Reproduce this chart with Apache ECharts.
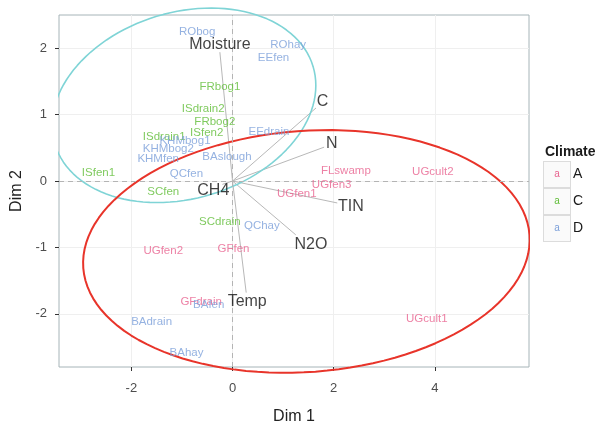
<!DOCTYPE html>
<html>
<head>
<meta charset="utf-8">
<script src="https://cdn.jsdelivr.net/npm/echarts@6/dist/echarts.min.js"></script>
<style>
html, body { margin: 0; padding: 0; background: #fff; }
#chart { width: 595px; height: 424px; }
</style>
</head>
<body>
<div id="chart"></div>
<script>
// site scores (Dim 1, Dim 2) by climate
const namesA = ['FLswamp', 'UGcult2', 'UGfen3', 'UGfen1', 'UGfen2', 'GFfen', 'GFdrain', 'UGcult1'];
const dim1A = [2.24, 3.96, 1.96, 1.27, -1.37, 0.02, -0.62, 3.84];
const dim2A = [0.16, 0.14, -0.05, -0.19, -1.05, -1.02, -1.82, -2.07];

const namesC = ['FRbog1', 'ISdrain2', 'FRbog2', 'ISfen2', 'ISdrain1', 'ISfen1', 'SCfen', 'SCdrain'];
const dim1C = [-0.25, -0.58, -0.35, -0.51, -1.35, -2.65, -1.37, -0.25];
const dim2C = [1.42, 1.08, 0.89, 0.73, 0.66, 0.12, -0.16, -0.61];

const namesD = ['RObog', 'ROhay', 'EEfen', 'EEdrain', 'KHMbog1', 'KHMbog2', 'KHMfen', 'BAslough', 'QCfen', 'QChay', 'BAfen', 'BAdrain', 'BAhay'];
const dim1D = [-0.70, 1.10, 0.81, 0.72, -0.94, -1.27, -1.47, -0.11, -0.91, 0.58, -0.47, -1.60, -0.91];
const dim2D = [2.24, 2.05, 1.86, 0.74, 0.60, 0.49, 0.34, 0.36, 0.11, -0.68, -1.86, -2.12, -2.58];

// environmental variables: label position and arrow end
const varNames = ['Moisture', 'C', 'N', 'CH4', 'TIN', 'N2O', 'Temp'];
const varDim1 = [-0.25, 1.78, 1.96, -0.38, 2.34, 1.55, 0.29];
const varDim2 = [2.06, 1.19, 0.56, -0.15, -0.39, -0.95, -1.81];
const arrowDim1 = [-0.25, 1.65, 1.81, -0.20, 2.07, 1.25, 0.27];
const arrowDim2 = [1.94, 1.10, 0.51, -0.05, -0.33, -0.81, -1.68];

// confidence ellipses: centre and two half-axis vectors
const ellipseCentreA = [1.46, -1.06];
const ellipseAxisA = [[4.41, 0.25], [-0.18, 1.81]];
const ellipseCentreCD = [-0.96, 1.14];
const ellipseAxisCD = [[2.55, 0.59], [-0.54, 1.34]];

const xTicks = [-2, 0, 2, 4];
const yTicks = [-2, -1, 0, 1, 2];

const colA = '#e8628e';
const colC = '#5fbd36';
const colD = '#7b9fd9';

function ellipsePath(c, ax) {
    const pts = [];
    for (let i = 0; i <= 120; i++) {
        const t = (i / 120) * Math.PI * 2;
        pts.push([
            c[0] + ax[0][0] * Math.cos(t) + ax[1][0] * Math.sin(t),
            c[1] + ax[0][1] * Math.cos(t) + ax[1][1] * Math.sin(t)
        ]);
    }
    return pts;
}

function sitePoints(names, xs, ys) {
    return names.map((n, i) => ({ name: n, value: [xs[i], ys[i]] }));
}

function siteSeries(name, color, names, xs, ys) {
    return {
        name: name,
        type: 'scatter',
        symbolSize: 0,
        itemStyle: { color: color },
        data: sitePoints(names, xs, ys),
        label: {
            show: true,
            position: 'inside',
            formatter: p => p.name,
            color: color,
            fontSize: 11.5,
            fontFamily: 'Liberation Sans'
        },
        silent: true,
        z: 5
    };
}

const chart = echarts.init(document.getElementById('chart'));

const box = c => ({
    color: c, fontSize: 10, width: 26, height: 25, align: 'center',
    borderColor: '#dcdcdc', borderWidth: 1, backgroundColor: '#fafafa'
});

const option = {
    animation: false,
    textStyle: { fontFamily: 'Liberation Sans' },
    title: {
        text: 'Climate',
        left: 540,
        top: 140,
        textStyle: { fontSize: 14, fontWeight: 'bold', color: '#1a1a1a', fontFamily: 'Liberation Sans' }
    },
    legend: {
        orient: 'vertical',
        left: 539,
        top: 161,
        data: ['A', 'C', 'D'],
        icon: 'none',
        itemWidth: 0,
        itemGap: 0,
        padding: 0,
        selectedMode: false,
        formatter: name => '{b' + name + '|a}{lab|' + name + '}',
        textStyle: {
            rich: {
                bA: box(colA),
                bC: box(colC),
                bD: box(colD),
                lab: { fontSize: 14, color: '#1a1a1a', padding: [0, 0, 0, 3] }
            }
        }
    },
    grid: {
        left: 59,
        right: 66,
        top: 15,
        bottom: 57,
        outerBoundsMode: 'none',
        show: true,
        borderColor: '#a6b4b8',
        borderWidth: 1,
        backgroundColor: '#fff'
    },
    xAxis: {
        type: 'value',
        min: -3.43,
        max: 5.86,
        name: 'Dim 1',
        nameLocation: 'middle',
        nameGap: 42,
        nameTextStyle: { fontSize: 16, color: '#222' },
        axisLine: { show: false, onZero: false },
        axisTick: { show: true, customValues: xTicks, length: 4, lineStyle: { color: '#333' } },
        axisLabel: { customValues: xTicks, fontSize: 13, color: '#4d4d4d', margin: 15 },
        splitLine: { show: true, lineStyle: { color: '#efefef' } }
    },
    yAxis: {
        type: 'value',
        min: -2.8,
        max: 2.5,
        name: 'Dim 2',
        nameLocation: 'middle',
        nameGap: 34,
        nameTextStyle: { fontSize: 16, color: '#222' },
        axisLine: { show: false, onZero: false },
        axisTick: { show: true, customValues: yTicks, length: 4, lineStyle: { color: '#333' } },
        axisLabel: { customValues: yTicks, fontSize: 13, color: '#4d4d4d', margin: 12 },
        splitLine: { show: true, lineStyle: { color: '#efefef' } }
    },
    series: [
        {
            name: 'zero',
            type: 'line',
            data: [],
            silent: true,
            markLine: {
                symbol: 'none',
                silent: true,
                label: { show: false },
                lineStyle: { color: '#b4b4b4', type: [5, 4], width: 1 },
                data: [{ xAxis: 0 }, { yAxis: 0 }]
            }
        },
        {
            name: 'arrows',
            type: 'lines',
            coordinateSystem: 'cartesian2d',
            silent: true,
            lineStyle: { color: '#b8b8b8', width: 1, opacity: 1 },
            data: varNames.map((n, i) => ({ coords: [[0, 0], [arrowDim1[i], arrowDim2[i]]] })),
            z: 3
        },
        {
            name: 'ellipseCD',
            type: 'line',
            data: ellipsePath(ellipseCentreCD, ellipseAxisCD),
            showSymbol: false,
            clip: false,
            silent: true,
            lineStyle: { color: '#7fd4d6', width: 1.6 },
            z: 4
        },
        {
            name: 'ellipseA',
            type: 'line',
            data: ellipsePath(ellipseCentreA, ellipseAxisA),
            showSymbol: false,
            clip: false,
            silent: true,
            lineStyle: { color: '#e8342a', width: 2 },
            z: 4
        },
        siteSeries('A', colA, namesA, dim1A, dim2A),
        siteSeries('C', colC, namesC, dim1C, dim2C),
        siteSeries('D', colD, namesD, dim1D, dim2D),
        {
            name: 'variables',
            type: 'scatter',
            symbolSize: 0,
            silent: true,
            data: sitePoints(varNames, varDim1, varDim2),
            label: {
                show: true,
                position: 'inside',
                formatter: p => p.name,
                color: '#111',
                fontSize: 16
            },
            z: 6
        }
    ]
};

chart.setOption(option);
</script>
</body>
</html>
